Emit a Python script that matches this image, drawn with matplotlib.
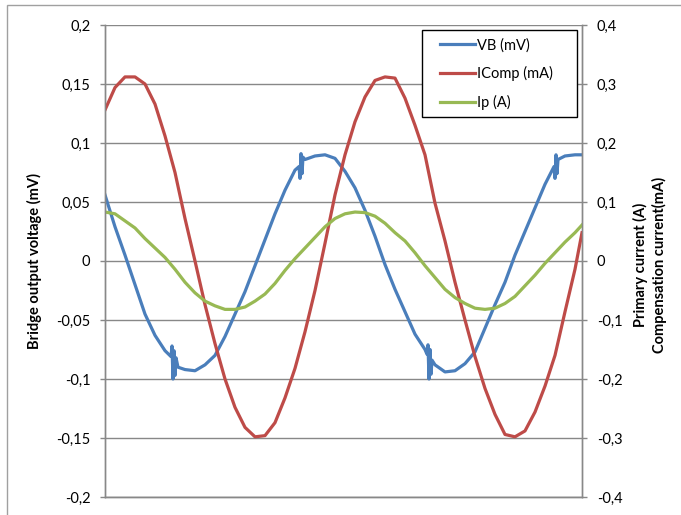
import matplotlib
matplotlib.use('Agg')
import matplotlib.pyplot as plt
from matplotlib.ticker import FuncFormatter, MultipleLocator
from matplotlib.patches import Rectangle

# *****************************************************************************************
# Data read off the scope capture (sample index along x, no units shown)
# *****************************************************************************************
# Common sample positions for ICOMP and Ip
samples = [0, 10, 20, 30, 40, 50, 60, 70, 80, 90, 100, 110, 120, 130, 140, 150, 160, 170,
           180, 190, 200, 210, 220, 230, 240, 250, 260, 270, 280, 290, 300, 310, 320, 330,
           340, 350, 360, 370, 380, 390, 400, 410, 420, 430, 440, 450, 460, 470, 477]

# Compensation current (mA) - right axis
icomp = [0.256, 0.294, 0.312, 0.312, 0.300, 0.266, 0.212, 0.150, 0.072, 0.000, -0.074, -0.140,
         -0.200, -0.248, -0.282, -0.298, -0.296, -0.274, -0.232, -0.182, -0.120, -0.050, 0.030,
         0.112, 0.180, 0.236, 0.278, 0.306, 0.312, 0.310, 0.276, 0.230, 0.180, 0.098, 0.034,
         -0.036, -0.100, -0.162, -0.216, -0.260, -0.294, -0.298, -0.288, -0.256, -0.212, -0.160,
         -0.086, -0.014, 0.048]

# Primary current (A) - right axis
ip = [0.083, 0.080, 0.068, 0.056, 0.038, 0.022, 0.006, -0.014, -0.036, -0.054, -0.068, -0.076,
      -0.082, -0.082, -0.078, -0.068, -0.056, -0.038, -0.016, 0.004, 0.022, 0.040, 0.058, 0.072,
      0.080, 0.083, 0.082, 0.076, 0.064, 0.048, 0.034, 0.014, -0.008, -0.028, -0.048, -0.062,
      -0.072, -0.080, -0.082, -0.080, -0.072, -0.060, -0.042, -0.024, -0.004, 0.014, 0.032,
      0.048, 0.061]

# Bridge output voltage (mV) - left axis, has its own samples because of the glitches
vb_samples = [0, 10, 20, 30, 40, 50, 60, 66, 67, 68, 69, 70, 71, 73, 80, 90, 100, 110, 120, 130,
              140, 150, 160, 170, 180, 190, 194, 195, 196, 197, 198, 200, 210, 220, 230, 240,
              250, 260, 270, 280, 290, 300, 310, 320, 322, 323, 324, 325, 326, 327, 330, 340,
              350, 360, 370, 380, 390, 400, 410, 420, 430, 440, 449, 450, 451, 452, 453, 460,
              470, 477]
vb = [0.056, 0.029, 0.005, -0.020, -0.045, -0.063, -0.076, -0.081, -0.072, -0.100, -0.076,
      -0.097, -0.082, -0.090, -0.092, -0.093, -0.088, -0.080, -0.064, -0.045, -0.026, -0.004,
      0.018, 0.040, 0.060, 0.077, 0.080, 0.070, 0.091, 0.074, 0.088, 0.086, 0.089, 0.090, 0.087,
      0.076, 0.062, 0.043, 0.021, -0.003, -0.024, -0.043, -0.062, -0.075, -0.079, -0.071, -0.100,
      -0.075, -0.096, -0.084, -0.088, -0.094, -0.093, -0.087, -0.077, -0.057, -0.037, -0.018,
      0.005, 0.025, 0.045, 0.065, 0.080, 0.070, 0.090, 0.074, 0.086, 0.089, 0.090, 0.090]

# Excel 2007 style colours
blue = '#4A7EBB'
red = '#BE4B48'
green = '#98B954'
grey = '#888888'

plt.rcParams['font.family'] = ['Lato', 'DejaVu Sans']
plt.rcParams['font.size'] = 10.5


# Comma as decimal separator on the tick labels
def comma_fmt(v, pos):
    return f'{v:g}'.replace('.', ',')


fig = plt.figure(figsize=(6.81, 5.15), dpi=100)

# Grey frame around the chart area (top and left edges visible)
fig.patches.append(Rectangle((7 / 681, -0.1), 1.2, 1.1 - 5 / 515, transform=fig.transFigure,
                             fill=False, edgecolor='#a0a0a0', linewidth=1.0))

ax = fig.add_axes([105 / 681, 1 - 497 / 515, 477 / 681, 472 / 515])
ax2 = ax.twinx()

# Plot the voltage on the primary axis and the currents on the secondary one
l1, = ax.plot(vb_samples, vb, color=blue, linewidth=2.3, label='VB (mV)')
l2, = ax2.plot(samples, icomp, color=red, linewidth=2.3, label='IComp (mA)')
l3, = ax2.plot(samples, ip, color=green, linewidth=2.3, label='Ip (A)')

ax.set_xlim(0, 477)
ax.set_ylim(-0.2, 0.2)
ax2.set_ylim(-0.4, 0.4)
ax.set_xticks([])

ax.yaxis.set_major_locator(MultipleLocator(0.05))
ax2.yaxis.set_major_locator(MultipleLocator(0.1))
ax.yaxis.set_major_formatter(FuncFormatter(comma_fmt))
ax2.yaxis.set_major_formatter(FuncFormatter(comma_fmt))

# Horizontal gridlines only
ax.grid(axis='y', color=grey, linewidth=1.0)
ax.set_axisbelow(True)

for a in (ax, ax2):
    a.spines['top'].set_visible(False)
    for s in ('left', 'right', 'bottom'):
        a.spines[s].set_color(grey)
        a.spines[s].set_linewidth(1.0)
    a.tick_params(axis='y', direction='out', length=3.6, width=1.0, color=grey, pad=7,
                  labelsize=10.5, labelcolor='#000000')
    a.tick_params(axis='x', length=0)

# Axis titles
ax.set_ylabel('Bridge output voltage (mV)', fontweight='bold', fontsize=10.5, labelpad=10)
fig.text(650 / 681, 1 - 265 / 515, 'Primary current (A)\nCompensation current(mA)',
         rotation=90, ha='center', va='center', fontweight='bold', fontsize=10.5,
         multialignment='center', linespacing=1.25)

# Legend box drawn separately so the padding matches Excel
box = Rectangle(((422 - 105) / 477, (497 - 117) / 472), 155 / 477, 87 / 472,
                transform=ax2.transAxes, facecolor='white', edgecolor='black',
                linewidth=1.0, zorder=4, clip_on=False)
ax2.add_patch(box)
leg = ax2.legend(handles=[l1, l2, l3], loc='upper left',
                 bbox_to_anchor=((440 - 105) / 477, (497 - 38) / 472),
                 frameon=False, handlelength=2.4, handletextpad=0.15, labelspacing=0.95,
                 borderpad=0, borderaxespad=0, fontsize=10.5)
leg.set_zorder(5)

plt.savefig('out.png', dpi=100)
